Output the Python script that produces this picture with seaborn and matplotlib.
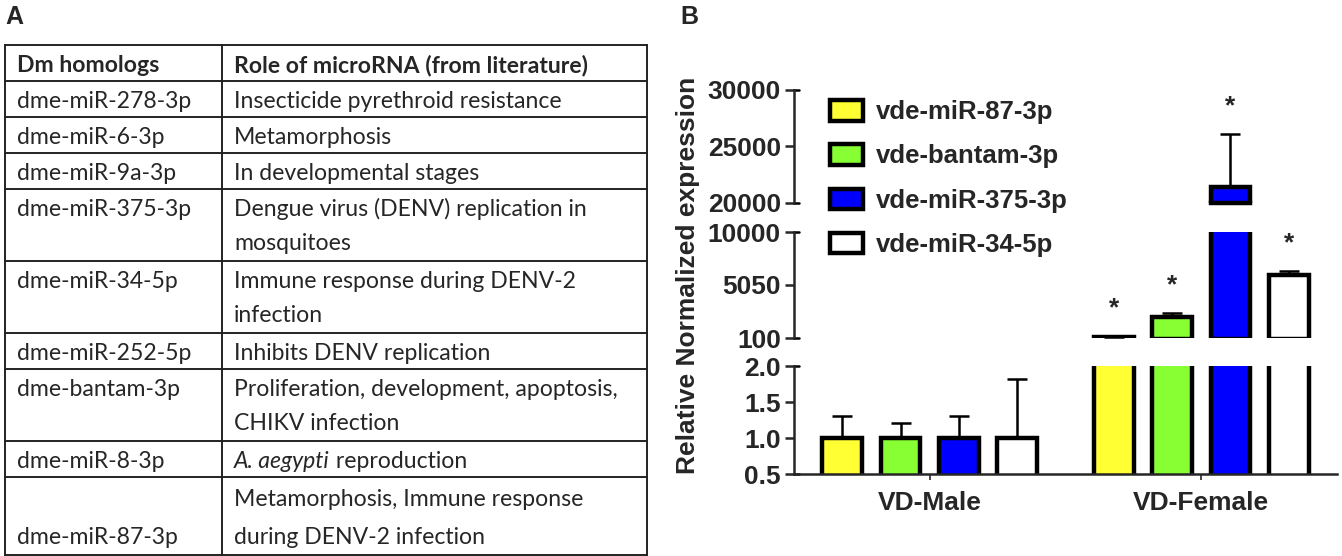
import seaborn as sns
import matplotlib.pyplot as plt
import pandas as pd
import numpy as np
from matplotlib.patches import Patch

# ---- panel A: table ----
table_header = ['Dm homologs', 'Role of microRNA (from literature)']
homologs = ['dme-miR-278-3p', 'dme-miR-6-3p', 'dme-miR-9a-3p', 'dme-miR-375-3p',
            'dme-miR-34-5p', 'dme-miR-252-5p', 'dme-bantam-3p', 'dme-miR-8-3p',
            'dme-miR-87-3p']
roles = ['Insecticide pyrethroid resistance',
         'Metamorphosis',
         'In developmental stages',
         'Dengue virus (DENV) replication in\nmosquitoes',
         'Immune response during DENV-2\ninfection',
         'Inhibits DENV replication',
         'Proliferation, development, apoptosis,\nCHIKV infection',
         'A. aegypti reproduction',
         'Metamorphosis, Immune response\nduring DENV-2 infection']
italic_prefix = 'A. aegypti'

# ---- panel B: qPCR bars ----
groups = ['VD-Male', 'VD-Female']
mirnas = ['vde-miR-87-3p', 'vde-bantam-3p', 'vde-miR-375-3p', 'vde-miR-34-5p']
colors = ['#FFFF33', '#88FF33', '#0000FF', '#FFFFFF']
male_mean = [1.0, 1.0, 1.0, 1.0]
male_sd = [0.31, 0.21, 0.31, 0.82]
female_mean = [220, 2060, 21400, 6000]
female_sd = [60, 375, 4700, 380]
female_signif = [True, True, True, True]

# broken y axis: top, middle, bottom pieces
seg_limits = [(20000, 30000), (100, 10000), (0.5, 2.0)]
seg_ticks = [[20000, 25000, 30000], [100, 5050, 10000], [0.5, 1.0, 1.5, 2.0]]
seg_ticklabels = [['20000', '25000', '30000'], ['100', '5050', '10000'],
                  ['0.5', '1.0', '1.5', '2.0']]

sns.set_style('ticks')
plt.rcParams['font.family'] = ['Liberation Sans', 'DejaVu Sans']

W, H = 1342, 556
fig = plt.figure(figsize=(W / 100, H / 100), dpi=100)

# ---------------- table ----------------
tab = fig.add_axes([0, 0, 680 / W, 1])
tab.set_xlim(0, 680)
tab.set_ylim(H, 0)
tab.axis('off')

x_left, x_div, x_right = 5, 222, 647
top = 45
line_h = 36
tfont = 'Lato'
tsize = 16.6

n_lines = [r.count('\n') + 1 for r in roles]
row_tops = [top, top + line_h]
for n in n_lines:
    row_tops.append(row_tops[-1] + line_h * n)
row_tops[-1] += 6  # last row a bit taller in the original

for y in row_tops:
    tab.plot([x_left, x_right], [y, y], color='#222222', lw=1.4, solid_capstyle='projecting')
for x in (x_left, x_div, x_right):
    tab.plot([x, x], [row_tops[0], row_tops[-1]], color='#222222', lw=1.4)

tab.text(17, top + 21, table_header[0], fontsize=tsize, weight='bold', family=tfont, va='center')
tab.text(234, top + 21, table_header[1], fontsize=tsize, weight='bold', family=tfont, va='center')

for i, (hom, role) in enumerate(zip(homologs, roles)):
    rt, rb = row_tops[i + 1], row_tops[i + 2]
    lines = role.split('\n')
    last = i == len(homologs) - 1
    if last:
        ys = [rb - 18 - 37 * (len(lines) - 1 - k) for k in range(len(lines))]
        hy = ys[-1]
    else:
        ys = [rt + 20 + 35 * k for k in range(len(lines))]
        hy = ys[0]
    tab.text(17, hy, hom, fontsize=tsize, family=tfont, va='center')
    for ln, y in zip(lines, ys):
        if ln.startswith(italic_prefix):
            t = tab.text(234, y, italic_prefix, fontsize=tsize, family=tfont,
                         style='italic', va='center')
            tab.annotate(ln[len(italic_prefix):], xy=(1, 0), xycoords=t,
                         fontsize=tsize, family=tfont, va='bottom', ha='left')
        else:
            tab.text(234, y, ln, fontsize=tsize, family=tfont, va='center')

fig.text(5 / W, 1 - 17 / H, 'A', fontsize=18, weight='bold', va='center', ha='left')
fig.text(680 / W, 1 - 17 / H, 'B', fontsize=18, weight='bold', va='center', ha='left')

# ---------------- bar chart ----------------
rows = []
for g, means in zip(groups, [male_mean, female_mean]):
    for m, v in zip(mirnas, means):
        rows.append({'group': g, 'mirna': m, 'value': v})
df = pd.DataFrame(rows)
sd = {'VD-Male': male_sd, 'VD-Female': female_sd}

ax_left = 794 / W
ax_w = (1337 - 794) / W
seg_px = [(90, 203), (232, 338), (366, 474)]
axes = []
for (y0, y1) in seg_px:
    axes.append(fig.add_axes([ax_left, 1 - y1 / H, ax_w, (y1 - y0) / H]))

lw_edge = 3.2
fs = 19
for k, ax in enumerate(axes):
    ax.set_facecolor('none')
    sns.barplot(data=df, x='group', y='value', hue='mirna', hue_order=mirnas,
                order=groups, palette=colors, saturation=1, edgecolor='black',
                linewidth=lw_edge, width=0.86, gap=0.32, errorbar=None,
                legend=False, ax=ax)
    bar_conts = list(ax.containers)
    lo, hi = seg_limits[k]
    for j, cont in enumerate(bar_conts):
        for gi, patch in enumerate(cont.patches):
            x = patch.get_x() + patch.get_width() / 2
            h = patch.get_height()
            e = sd[groups[gi]][j]
            if h <= lo:
                # bar ends below this piece of the axis
                patch.set_visible(False)
                continue
            if k == 0:
                # bar cut by the break: Prism closes it at the segment bottom
                ax.plot([patch.get_x(), patch.get_x() + patch.get_width()], [lo, lo],
                        color='black', lw=lw_edge, clip_on=False,
                        solid_capstyle='projecting', zorder=2)
            ax.errorbar(x, h, yerr=[[0], [e]], fmt='none', ecolor='black',
                        elinewidth=1.8, capsize=7, capthick=1.8, zorder=0.9)
            if groups[gi] == 'VD-Female' and female_signif[j] and lo < h + e <= hi:
                ax.annotate('*', xy=(x, h + e), xytext=(0, 15), textcoords='offset points',
                            ha='center', va='baseline', fontsize=fs, weight='bold')
    ax.set_ylim(lo, hi)
    ax.set_xlim(-0.5, 1.5)
    ax.set_yticks(seg_ticks[k])
    ax.set_yticklabels(seg_ticklabels[k], fontsize=fs, weight='bold')
    ax.set_ylabel('')
    ax.set_xlabel('')
    sns.despine(ax=ax)
    ax.spines['left'].set_linewidth(1.8)
    ax.tick_params(axis='y', length=6.5, width=1.8, pad=3)
    # little caps at the segment ends
    for yy in (0, 1):
        ax.plot([0, 0.009], [yy, yy], transform=ax.transAxes, color='black',
                lw=1.8, clip_on=False)
    if k < 2:
        ax.spines['bottom'].set_visible(False)
        ax.tick_params(axis='x', bottom=False, labelbottom=False)
    else:
        ax.spines['bottom'].set_linewidth(1.8)
        ax.tick_params(axis='x', length=4, width=1.2, pad=8)
        ax.set_xticks(range(len(groups)))
        ax.set_xticklabels(groups, fontsize=fs, weight='bold')

fig.text(688 / W, 1 - 275 / H, 'Relative Normalized expression', rotation=90,
         ha='center', va='center', fontsize=fs, weight='bold')

handles = [Patch(facecolor=c, edgecolor='black', linewidth=lw_edge, label=m)
           for c, m in zip(colors, mirnas)]
fig.legend(handles=handles, loc='upper left', bbox_to_anchor=(830 / W, 1 - 100 / H),
           frameon=False, prop={'size': 18.5, 'weight': 'bold'},
           handlelength=1.28, handleheight=0.86, handletextpad=0.5,
           labelspacing=0.78, borderpad=0, borderaxespad=0)

fig.savefig('out.png', dpi=100)
